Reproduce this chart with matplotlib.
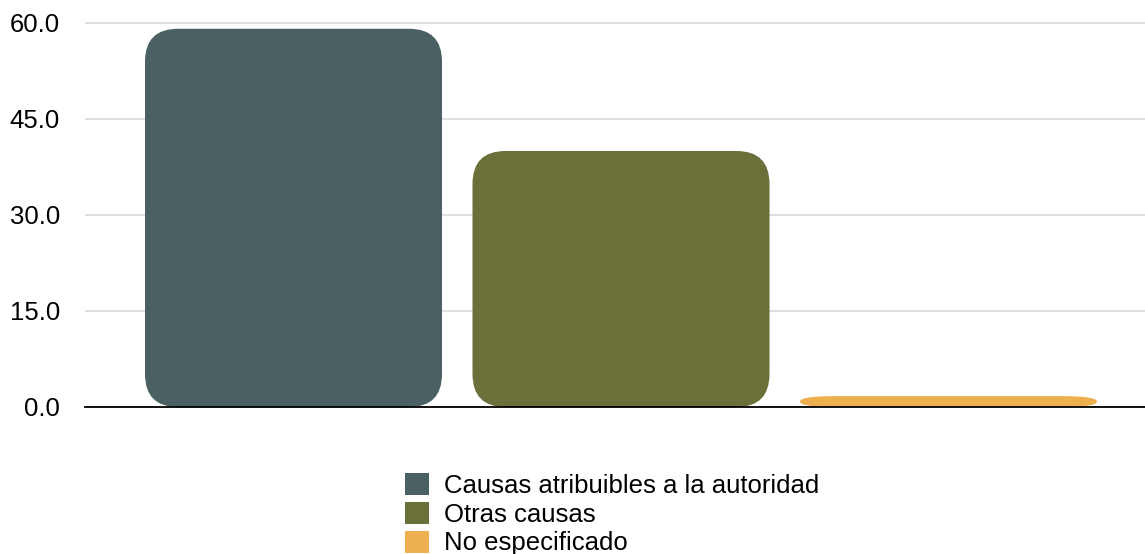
import matplotlib
matplotlib.use("Agg")
import matplotlib.pyplot as plt
from matplotlib.patches import FancyBboxPatch, Patch
from matplotlib.ticker import FormatStrFormatter

categories = ["Causas atribuibles a la autoridad", "Otras causas", "No especificado"]
values = [59.1, 40.0, 1.7]
colors = ["#4a6063", "#6b703a", "#eeb04e"]
yticks = [0.0, 15.0, 30.0, 45.0, 60.0]

plt.rcParams["font.family"] = ["Liberation Sans", "DejaVu Sans"]

W, H = 1145, 554
fig = plt.figure(figsize=(W / 100, H / 100), dpi=100)
y0_px, ppu = 407, 6.4
ymax = 61
top_px = y0_px - ymax * ppu
ax = fig.add_axes([85 / W, (H - y0_px) / H, 1 - 85 / W, (y0_px - top_px) / H])

spacing_px = 327.5
xmin = -(293.5 - 85) / spacing_px
xmax = 2 + (1145 - 948.5) / spacing_px
ax.set_xlim(xmin, xmax)
ax.set_ylim(0, ymax)

bw = 297 / spacing_px
xu = 1 / spacing_px
yu = 1 / ppu
base_aspect = yu / xu
r = 33 * xu

for i, (v, c) in enumerate(zip(values, colors)):
    aspect = min(base_aspect, v / (2 * r))
    p = FancyBboxPatch((i - bw / 2, 0), bw, v,
                       boxstyle=f"round,pad=0,rounding_size={r}",
                       mutation_aspect=aspect, facecolor=c, edgecolor="none",
                       zorder=3)
    ax.add_patch(p)

ax.set_yticks(yticks)
ax.yaxis.set_major_formatter(FormatStrFormatter("%.1f"))
ax.tick_params(axis="y", length=0, pad=18, labelsize=18.5, labelcolor="#000000")
ax.set_xticks([])
ax.grid(axis="y", color="#d9d9d9", linewidth=1.2, zorder=0)
ax.set_axisbelow(True)
for s in ["top", "right", "left"]:
    ax.spines[s].set_visible(False)
ax.spines["bottom"].set_color("#000000")
ax.spines["bottom"].set_linewidth(1.3)
ax.spines["bottom"].set_zorder(4)

handles = [Patch(facecolor=c, edgecolor="none", label=l) for c, l in zip(colors, categories)]
fig.legend(handles=handles, loc="upper center", bbox_to_anchor=(612 / W, 1 - 473 / H),
           frameon=False, fontsize=18.5, handlelength=0.93, handleheight=0.93,
           labelspacing=0.16, handletextpad=0.58, borderpad=0, borderaxespad=0)

fig.savefig("out.png", dpi=100)
